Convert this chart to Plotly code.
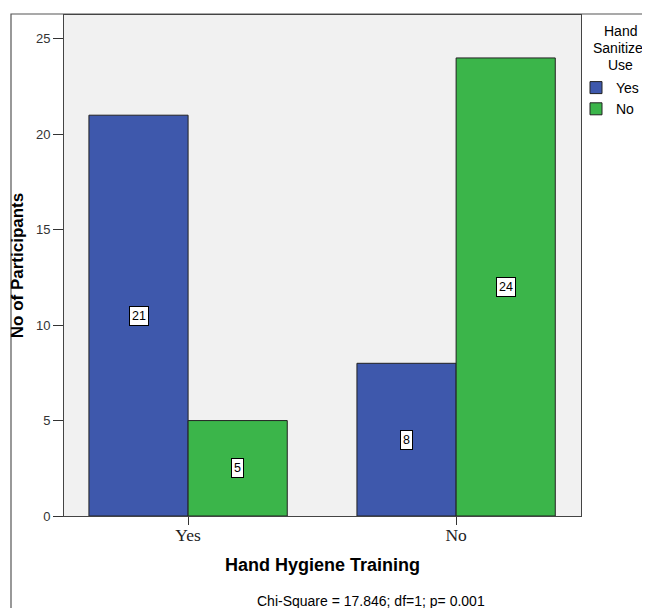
import plotly.graph_objects as go

categories = ["Yes", "No"]
series_names = ["Yes", "No"]
yes_values = [21, 8]
no_values = [5, 24]
colors = ["#3E58AC", "#3BB54A"]
legend_title_lines = ["Hand", "Sanitizer", "Use"]

W, H = 650, 608
OX, OY = 7, 7  # page offset of the figure inside the browser window
# plot area in screen pixels
SL, SR, ST, SB = 63, 580, 14, 515
ml = SL - OX
mt = ST - OY
mr = W - (SR - OX)
mb = H - (SB - OY)
pw = SR - SL
ph = SB - ST


def px(sx):
    return (sx - OX - ml) / pw


def py(sy):
    return 1 - (sy - OY - mt) / ph


xpos = list(range(len(categories)))
bar_w = 0.37

fig = go.Figure()
for name, vals, col, off in [(series_names[0], yes_values, colors[0], -bar_w / 2),
                             (series_names[1], no_values, colors[1], bar_w / 2)]:
    fig.add_trace(go.Bar(
        x=xpos, y=vals, name=name, width=bar_w, offset=off - bar_w / 2,
        marker=dict(color=col, line=dict(color="#222222", width=1)),
    ))
    for xi, v in zip(xpos, vals):
        fig.add_annotation(
            x=xi + off, y=v / 2, text=str(v), showarrow=False,
            font=dict(family="Arial", size=12.5, color="black"),
            bgcolor="white", bordercolor="black", borderwidth=1, borderpad=2,
        )

# outer frame
fig.add_shape(type="path", xref="paper", yref="paper",
              path=f"M {px(10)} -0.5 L {px(10)} {py(13)} L 1.5 {py(13)}",
              line=dict(color="#555555", width=1.2), layer="below")

fig.add_annotation(xref="paper", yref="paper", x=px(370), y=py(599.5),
                   text="Chi-Square = 17.846; df=1; p= 0.001", showarrow=False,
                   font=dict(family="Arial", size=14, color="black"), yanchor="middle")

# legend title (three centred lines)
for line, sy in zip(legend_title_lines, [30.5, 47, 63.5]):
    fig.add_annotation(xref="paper", yref="paper", x=px(619), y=py(sy),
                       text=line, showarrow=False,
                       font=dict(family="Arial", size=14, color="black"),
                       xanchor="center", yanchor="middle")

fig.update_layout(
    width=W, height=H,
    margin=dict(l=ml, r=mr, t=mt, b=mb, autoexpand=False),
    paper_bgcolor="white",
    plot_bgcolor="#F1F1F1",
    showlegend=True,
    legend=dict(
        x=px(575), y=py(71), xanchor="left", yanchor="top",
        font=dict(family="Arial", size=14, color="black"),
        bgcolor="rgba(0,0,0,0)", itemwidth=30, tracegroupgap=0,
    ),
    xaxis=dict(
        range=[-0.463, 1.466], tickvals=xpos, ticktext=categories,
        ticks="outside", ticklen=8, tickcolor="#333333",
        tickfont=dict(family="Liberation Serif", size=17.5, color="#222222"),
        ticklabelstandoff=-5,
        showgrid=False, zeroline=False, automargin=False,
        showline=True, linecolor="#444444", linewidth=1, mirror=True,
        title=dict(text="<b>Hand Hygiene Training</b>", font=dict(family="Arial", size=18, color="black"),
                   standoff=14),
    ),
    yaxis=dict(
        range=[0, 26.25], tickvals=[0, 5, 10, 15, 20, 25],
        ticks="outside", ticklen=10, tickcolor="#333333",
        tickfont=dict(family="Arial", size=13, color="#333333"),
        showgrid=False, zeroline=False, automargin=False,
        showline=True, linecolor="#444444", linewidth=1, mirror=True,
        title=dict(text="<b>No of Participants</b>", font=dict(family="Arial", size=17, color="black"),
                   standoff=9),
    ),
)

fig.write_html("out.html")
